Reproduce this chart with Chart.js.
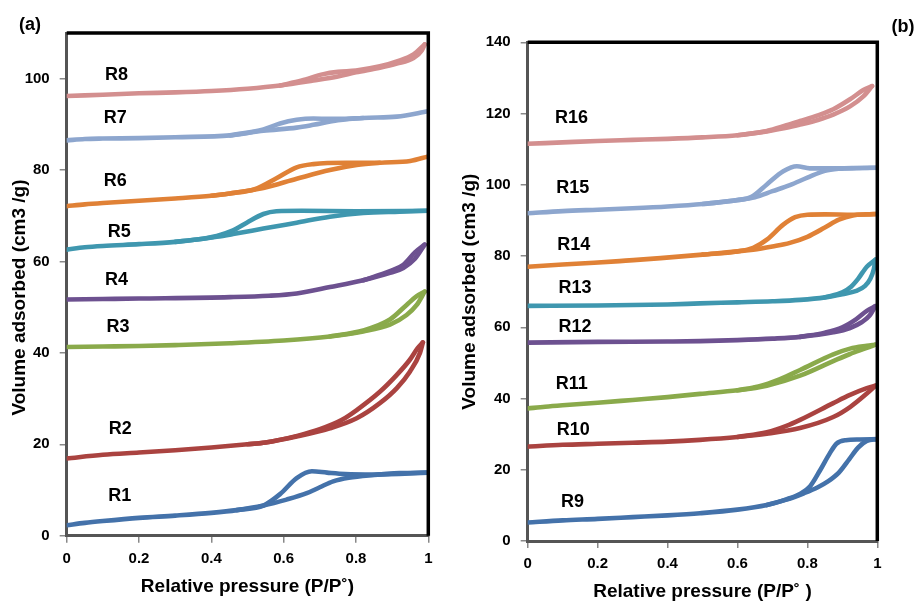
<!DOCTYPE html>
<html>
<head>
<meta charset="utf-8">
<script src="https://cdn.jsdelivr.net/npm/chart.js@4.4.0/dist/chart.umd.min.js"></script>
<style>
  body { margin: 0; background: #fff; }
  #wrap { position: relative; width: 917px; height: 601px; }
  canvas { position: absolute; top: 0; }
</style>
</head>
<body>
<div id="wrap">
  <canvas id="chartA" width="450" height="601" style="left:0px"></canvas>
  <canvas id="chartB" width="467" height="601" style="left:450px"></canvas>
</div>
<script>
// isotherms, [P/P0, volume] ; ads = lower branch, des = upper branch
const R1_ads = [[0,2.3],[0.05,2.8],[0.1,3.2],[0.2,3.9],[0.3,4.4],[0.4,5.0],[0.47,5.6],[0.544,6.6],[0.608,7.9],[0.664,9.3],[0.70,10.6],[0.737,11.9],[0.78,12.7],[0.85,13.3],[0.92,13.7],[1.0,13.8]]
const R1_des = [[0.47,5.6],[0.544,6.6],[0.59,9.1],[0.636,12.6],[0.678,14.1],[0.72,13.8],[0.77,13.5],[0.85,13.4],[1.0,13.8]]
const R2_ads = [[0,16.9],[0.1,17.7],[0.2,18.2],[0.3,18.7],[0.4,19.3],[0.5,20.0],[0.55,20.4],[0.636,21.7],[0.728,23.5],[0.802,25.7],[0.866,29.0],[0.913,32.3],[0.949,35.9],[0.977,40.0],[0.985,42.3]]
const R2_des = [[0.5,20.0],[0.55,20.4],[0.64,21.9],[0.70,23.3],[0.76,25.3],[0.802,27.5],[0.866,31.5],[0.913,35.2],[0.949,38.5],[0.97,41.0],[0.985,42.3]]
const R3_ads = [[0,41.3],[0.1,41.4],[0.2,41.5],[0.3,41.7],[0.452,42.1],[0.6,42.7],[0.728,43.6],[0.82,44.7],[0.894,46.2],[0.94,48.3],[0.968,50.5],[0.99,53.4]]
const R3_des = [[0.728,43.6],[0.82,44.9],[0.894,47.3],[0.94,50.5],[0.968,52.4],[0.99,53.4]]
const R4_ads = [[0,51.7],[0.1,51.8],[0.2,51.9],[0.452,52.2],[0.56,52.5],[0.636,53.0],[0.728,54.4],[0.82,55.9],[0.894,57.5],[0.931,58.6],[0.963,60.6],[0.99,63.7]]
const R4_des = [[0.82,55.9],[0.894,57.9],[0.931,59.3],[0.963,62.0],[0.99,63.7]]
const R5_ads = [[0,62.6],[0.05,63.1],[0.1,63.4],[0.2,63.8],[0.3,64.3],[0.36,64.8],[0.415,65.4],[0.46,66.0],[0.544,67.2],[0.636,68.5],[0.728,69.8],[0.82,70.6],[0.92,70.9],[1.0,71.1]]
const R5_des = [[0.3,64.3],[0.36,64.8],[0.415,65.6],[0.46,66.8],[0.498,68.5],[0.544,70.4],[0.58,71.0],[0.65,71.1],[0.8,71.0],[1.0,71.1]]
const R6_ads = [[0,72.1],[0.05,72.5],[0.1,72.8],[0.2,73.3],[0.3,73.8],[0.4,74.4],[0.452,74.9],[0.544,76.1],[0.636,78.1],[0.728,80.0],[0.802,81.1],[0.866,81.6],[0.95,82.0],[1.0,83.0]]
const R6_des = [[0.4,74.4],[0.452,74.9],[0.52,75.8],[0.58,78.2],[0.636,80.6],[0.682,81.3],[0.774,81.6],[0.866,81.6]]
const R7_ads = [[0,86.5],[0.05,86.8],[0.1,86.9],[0.2,87.0],[0.3,87.2],[0.452,87.6],[0.544,88.6],[0.636,89.3],[0.682,89.9],[0.75,90.9],[0.82,91.4],[0.913,91.7],[1.0,92.9]]
const R7_des = [[0.452,87.6],[0.544,88.9],[0.59,90.2],[0.636,91.0],[0.682,91.3],[0.75,91.2],[0.82,91.4]]
const R8_ads = [[0,96.2],[0.1,96.5],[0.2,96.8],[0.3,97.0],[0.4,97.3],[0.5,97.8],[0.59,98.5],[0.682,99.6],[0.75,100.5],[0.80,101.4],[0.866,102.4],[0.913,103.3],[0.959,104.5],[0.982,106.2],[0.99,107.5]]
const R8_des = [[0.59,98.5],[0.65,99.6],[0.71,101.0],[0.75,101.5],[0.80,101.8],[0.866,102.7],[0.913,103.8],[0.959,105.3],[0.99,107.5]]

const R9_ads = [[0,5.2],[0.1,5.8],[0.2,6.2],[0.3,6.7],[0.4,7.2],[0.493,7.8],[0.6,8.8],[0.684,10.1],[0.74,11.6],[0.79,13.4],[0.83,15.1],[0.86,16.8],[0.89,19.2],[0.92,23.0],[0.945,26.2],[0.97,28.1],[1.0,28.6]]
const R9_des = [[0.684,10.1],[0.74,11.7],[0.78,13.3],[0.808,15.4],[0.836,19.8],[0.864,24.6],[0.883,27.3],[0.91,28.3],[0.95,28.5],[1.0,28.6]]
const R10_ads = [[0,26.5],[0.1,27.0],[0.2,27.3],[0.3,27.6],[0.4,27.9],[0.493,28.4],[0.6,29.2],[0.684,30.1],[0.779,31.7],[0.874,34.8],[0.922,37.6],[0.97,41.4],[0.995,43.6]]
const R10_des = [[0.6,29.2],[0.684,30.5],[0.74,32.3],[0.779,34.0],[0.874,38.7],[0.922,41.0],[0.97,42.9],[0.995,43.6]]
const R11_ads = [[0,37.2],[0.05,37.7],[0.1,38.1],[0.2,38.8],[0.3,39.6],[0.4,40.4],[0.493,41.3],[0.6,42.3],[0.684,43.6],[0.779,46.4],[0.874,50.5],[0.922,52.5],[0.97,54.2],[0.994,55.1]]
const R11_des = [[0.6,42.3],[0.66,43.4],[0.72,45.4],[0.779,48.0],[0.874,52.4],[0.922,54.0],[0.97,54.8],[0.994,55.1]]
const R12_ads = [[0,55.7],[0.2,55.9],[0.4,56.0],[0.493,56.1],[0.6,56.4],[0.7,56.8],[0.779,57.3],[0.874,58.6],[0.922,59.8],[0.955,61.4],[0.978,63.3],[0.994,65.9]]
const R12_des = [[0.779,57.3],[0.85,58.5],[0.9,60.0],[0.94,62.3],[0.97,64.6],[0.994,65.9]]
const R13_ads = [[0,66.0],[0.2,66.1],[0.4,66.4],[0.493,66.7],[0.6,67.0],[0.7,67.3],[0.779,67.7],[0.85,68.4],[0.9,69.3],[0.94,70.2],[0.965,71.6],[0.98,73.6],[0.99,76.3],[0.995,79.0]]
const R13_des = [[0.85,68.4],[0.9,69.8],[0.925,71.4],[0.945,73.6],[0.97,77.0],[0.995,79.0]]
const R14_ads = [[0,77.0],[0.1,77.6],[0.19,78.1],[0.28,78.7],[0.38,79.4],[0.5,80.4],[0.645,81.8],[0.7,82.7],[0.75,83.7],[0.8,85.4],[0.85,88.0],[0.89,90.2],[0.93,91.4],[0.97,91.7],[1.0,91.8]]
const R14_des = [[0.5,80.4],[0.6,81.3],[0.645,82.3],[0.684,84.6],[0.731,88.8],[0.765,90.9],[0.8,91.6],[0.85,91.7],[0.93,91.6],[1.0,91.8]]
const R15_ads = [[0,92.0],[0.1,92.6],[0.2,93.0],[0.3,93.4],[0.4,93.9],[0.5,94.6],[0.6,95.7],[0.65,96.5],[0.7,98.2],[0.75,99.9],[0.8,102.0],[0.85,103.9],[0.89,104.5],[0.94,104.7],[1.0,104.8]]
const R15_des = [[0.5,94.6],[0.6,95.7],[0.64,96.6],[0.684,100.1],[0.731,103.8],[0.77,105.2],[0.807,104.6],[0.874,104.6],[1.0,104.8]]
const R16_ads = [[0,111.5],[0.1,111.9],[0.2,112.3],[0.3,112.6],[0.4,112.9],[0.5,113.3],[0.6,113.9],[0.684,115.0],[0.74,116.0],[0.779,116.9],[0.83,118.2],[0.874,119.7],[0.922,122.0],[0.96,124.8],[0.985,127.7]]
const R16_des = [[0.6,113.9],[0.684,115.1],[0.74,116.7],[0.779,117.9],[0.83,119.5],[0.874,121.2],[0.922,124.0],[0.96,126.6],[0.985,127.7]]

const namesA = ['R1','R2','R3','R4','R5','R6','R7','R8']
const namesB = ['R9','R10','R11','R12','R13','R14','R15','R16']
const seriesA = [[R1_ads,R1_des],[R2_ads,R2_des],[R3_ads,R3_des],[R4_ads,R4_des],[R5_ads,R5_des],[R6_ads,R6_des],[R7_ads,R7_des],[R8_ads,R8_des]]
const seriesB = [[R9_ads,R9_des],[R10_ads,R10_des],[R11_ads,R11_des],[R12_ads,R12_des],[R13_ads,R13_des],[R14_ads,R14_des],[R15_ads,R15_des],[R16_ads,R16_des]]

const xTicks = [0, 0.2, 0.4, 0.6, 0.8, 1]
const xTickLabels = ['0','0.2','0.4','0.6','0.8','1']
const yTicksA = [0, 20, 40, 60, 80, 100]
const yTicksB = [0, 20, 40, 60, 80, 100, 120, 140]

// where the R-names sit, in data units
const labelAtA = [[0.147,8.6],[0.148,23.4],[0.142,45.7],[0.138,56.0],[0.145,66.5],[0.134,77.6],[0.134,91.4],[0.138,100.9]]
const labelAtB = [[0.128,11.0],[0.13,31.1],[0.126,44.1],[0.135,60.2],[0.135,71.0],[0.132,83.2],[0.129,99.2],[0.125,118.6]]

const colors = ['#4472AA','#AA4340','#8AAA4B','#6D5190','#3F97AF','#E08136','#8DA6CE','#D38F8F']

const FONT = '"Liberation Sans", Arial, sans-serif'

const makeDatasets = (series) => {
    const out = []
    series.forEach((pair, i) => {
        pair.forEach(branch => {
            out.push({
                data: branch,
                borderColor: colors[i],
                borderWidth: 4.6,
                borderCapStyle: 'round',
                borderJoinStyle: 'round',
                pointRadius: 0,
                cubicInterpolationMode: 'monotone',
                fill: false
            })
        })
    })
    return out
}

const labelPlugin = (names, at, panel, px, py) => ({
    id: 'seriesLabels',
    afterDatasetsDraw(chart) {
        const ctx = chart.ctx
        const x = chart.scales.x, y = chart.scales.y
        const a = chart.chartArea
        ctx.save()
        ctx.strokeStyle = '#000'
        ctx.lineWidth = 3.5
        ctx.beginPath()
        ctx.moveTo(a.left, a.top)
        ctx.lineTo(a.right, a.top)
        ctx.lineTo(a.right, a.bottom)
        ctx.stroke()

        ctx.fillStyle = '#000'
        ctx.textAlign = 'center'
        ctx.textBaseline = 'middle'
        ctx.font = 'bold 18px ' + FONT
        names.forEach((n, i) => {
            ctx.fillText(n, x.getPixelForValue(at[i][0]), y.getPixelForValue(at[i][1]))
        })
        ctx.fillText(panel, px, py)
        ctx.restore()
    }
})

const makeChart = (id, series, names, at, yMax, yTicks, yTitle, xTitle, box, panel) => {
    const config = {
        type: 'line',
        data: { datasets: makeDatasets(series) },
        options: {
            responsive: false,
            animation: false,
            devicePixelRatio: 1,
            layout: { padding: { left: 0, right: box.right, top: box.top, bottom: box.bottom } },
            plugins: { legend: { display: false }, tooltip: { enabled: false } },
            scales: {
                x: {
                    type: 'linear',
                    min: 0,
                    max: 1,
                    afterBuildTicks: s => { s.ticks = xTicks.map(v => ({ value: v })) },
                    afterFit: s => { s.height = box.xh },
                    grid: { display: true, drawOnChartArea: false, drawTicks: true, tickLength: 7, color: '#888', lineWidth: 1.5 },
                    border: { display: true, color: '#555', width: 3 },
                    ticks: {
                        padding: 7,
                        color: '#000',
                        font: { family: FONT, size: 15, weight: 'bold' },
                        callback: (v) => xTickLabels[xTicks.indexOf(v)]
                    },
                    title: {
                        display: true,
                        text: xTitle,
                        color: '#000',
                        padding: { top: 0, bottom: 0 },
                        font: { family: FONT, size: 19, weight: 'bold', lineHeight: 1 }
                    }
                },
                y: {
                    type: 'linear',
                    min: 0,
                    max: yMax,
                    afterBuildTicks: s => { s.ticks = yTicks.map(v => ({ value: v })) },
                    afterFit: s => { s.width = box.yw },
                    grid: { display: true, drawOnChartArea: false, drawTicks: true, tickLength: 7, color: '#888', lineWidth: 1.5 },
                    border: { display: true, color: '#555', width: 3 },
                    ticks: {
                        padding: 10,
                        color: '#000',
                        font: { family: FONT, size: 15, weight: 'bold' },
                        callback: (v) => String(v)
                    },
                    title: {
                        display: true,
                        text: yTitle,
                        color: '#000',
                        padding: { top: 10.5, bottom: 0 },
                        font: { family: FONT, size: 19, weight: 'bold', lineHeight: 1 }
                    }
                }
            }
        },
        plugins: [labelPlugin(names, at, panel.text, panel.x, panel.y)]
    }
    return new Chart(document.getElementById(id), config)
}

makeChart('chartA', seriesA, namesA, labelAtA, 110, yTicksA,
    'Volume adsorbed (cm3 /g)     ', 'Relative pressure (P/P˚)',
    { right: 21.7, top: 33, bottom: 4.8, xh: 60.5, yw: 66.7 },
    { text: '(a)', x: 30, y: 25 })

makeChart('chartB', seriesB, namesB, labelAtB, 140, yTicksB,
    'Volume adsorbed (cm3 /g)', 'Relative pressure (P/P˚ )',
    { right: 39.7, top: 42.3, bottom: 0, xh: 60, yw: 77.7 },
    { text: '(b)', x: 453, y: 27 })
</script>
</body>
</html>
